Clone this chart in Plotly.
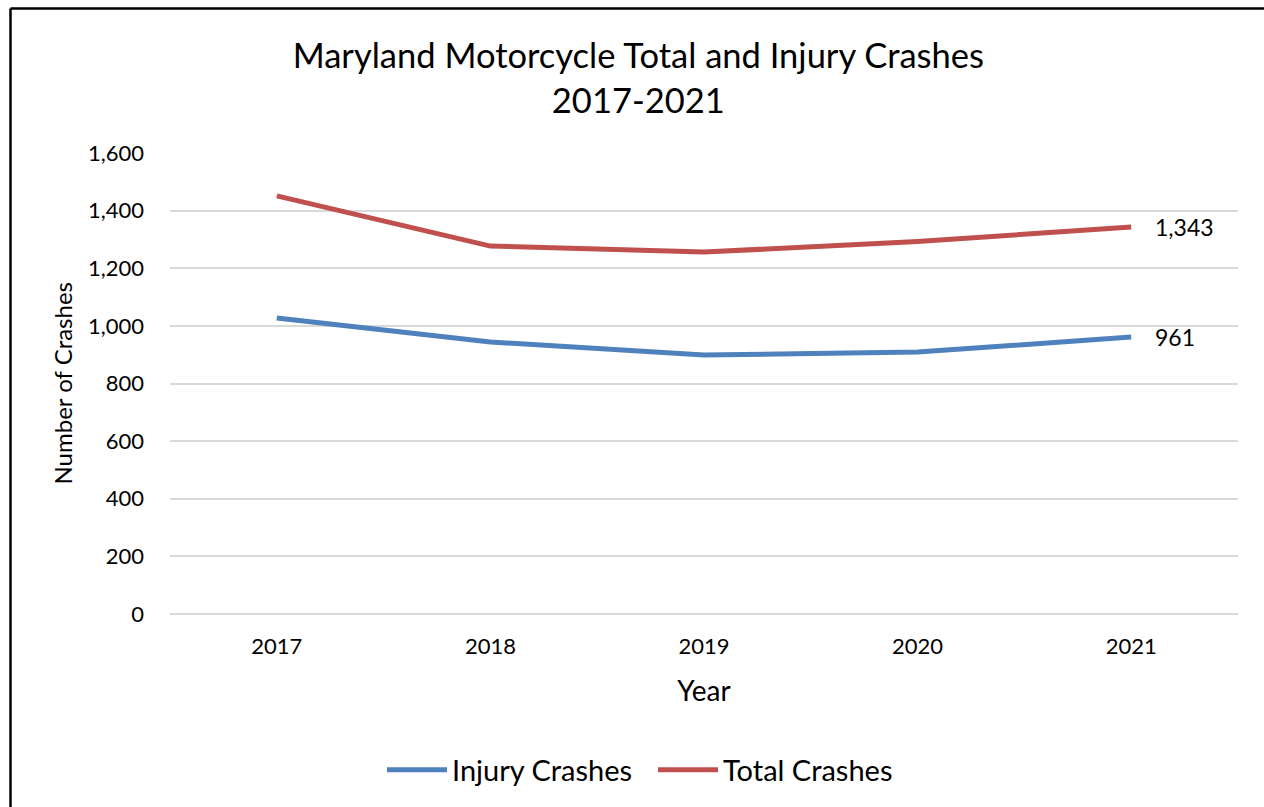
import plotly.graph_objects as go

years = ["2017", "2018", "2019", "2020", "2021"]
injury = [1027, 944, 899, 909, 961]
total = [1451, 1277, 1256, 1293, 1343]

W, H = 1264, 807
L, R, T, B = 170, 26, 153, 193
pw, ph = W - L - R, H - T - B
FONT = "Lato, 'Noto Sans', sans-serif"

fig = go.Figure()
fig.add_trace(go.Scatter(x=years, y=injury, name="Injury Crashes", mode="lines",
                         line=dict(color="#4F81BD", width=5)))
fig.add_trace(go.Scatter(x=years, y=total, name="Total Crashes", mode="lines",
                         line=dict(color="#C0504D", width=5)))

def px_x(x):
    return (x - L) / pw

def px_y(y):
    return (H - B - y) / ph

annotations = []
last = len(years) - 1
for vals in (injury, total):
    annotations.append(dict(x=last, y=vals[-1], xref="x", yref="y",
                            text=f"{vals[-1]:,}", showarrow=False, xanchor="left",
                            yanchor="middle", xshift=22, font=dict(size=23, color="#000")))
annotations.append(dict(x=px_x(62), y=0.5, xref="paper", yref="paper",
                        text="Number of Crashes", textangle=-90, showarrow=False,
                        xanchor="center", yanchor="middle", font=dict(size=24, color="#000")))

fig.update_layout(
    width=W, height=H,
    margin=dict(l=L, r=R, t=T, b=B, autoexpand=False),
    paper_bgcolor="white", plot_bgcolor="white",
    font=dict(family=FONT, color="#000"),
    title=dict(text="Maryland Motorcycle Total and Injury Crashes<br>2017-2021",
               x=0.505, xanchor="center", y=1 - 68 / H, yanchor="middle",
               font=dict(size=34.5, color="#000")),
    xaxis=dict(type="category", range=[-0.5, 4.5], showgrid=False, showline=False,
               ticks="", tickfont=dict(size=22), ticklabelstandoff=17,
               title=dict(text="Year", font=dict(size=28), standoff=23)),
    yaxis=dict(range=[0, 1600], dtick=200, tickformat=",", showgrid=True,
               gridcolor="#D9D9D9", gridwidth=1.5, zeroline=True, zerolinecolor="#D9D9D9",
               zerolinewidth=1.5, showline=False, ticks="", tickfont=dict(size=22),
               ticklabelstandoff=25),
    legend=dict(orientation="h", xref="container", x=(387 - 5) / W, xanchor="left",
                y=px_y(770), yanchor="middle",
                font=dict(size=29), itemwidth=60, entrywidth=196, tracegroupgap=0),
    annotations=annotations,
    shapes=[
        dict(type="line", xref="paper", yref="paper",
             x0=px_x(10.5), x1=px_x(1270), y0=px_y(8.5), y1=px_y(8.5),
             line=dict(color="#000", width=2.5), layer="below"),
        dict(type="line", xref="paper", yref="paper",
             x0=px_x(10.5), x1=px_x(10.5), y0=px_y(8.5), y1=px_y(820),
             line=dict(color="#000", width=2.5), layer="below"),
    ],
)

fig.write_html("out.html", config={"displayModeBar": False},
               post_script="document.body.style.margin='0';")
